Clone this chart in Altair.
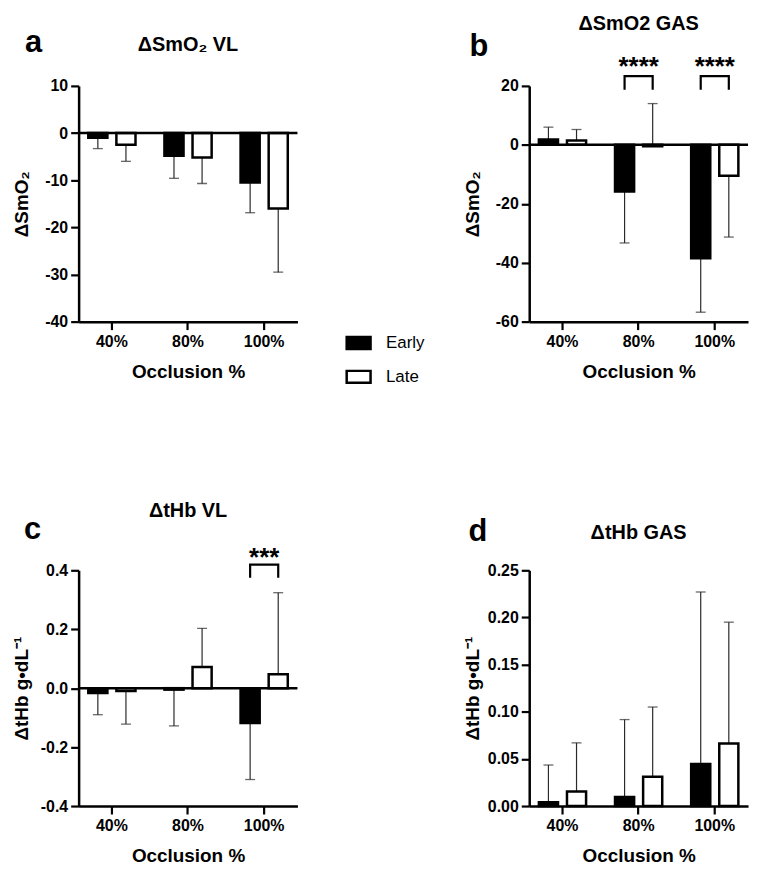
import altair as alt
import pandas as pd

FONT = "Liberation Sans"

occlusion = ["40%", "80%", "100%"]
phases = ["Early", "Late"]

# Panel a: ΔSmO2 VL
a_early = [-1.0, -4.8, -10.5]
a_early_err = [-3.3, -9.6, -16.9]
a_late = [-2.5, -5.2, -16.0]
a_late_err = [-6.0, -10.7, -29.5]

# Panel b: ΔSmO2 GAS
b_early = [1.8, -15.8, -38.5]
b_early_err = [6.0, -33.3, -56.8]
b_late = [1.5, -0.5, -10.5]
b_late_err = [5.2, 14.0, -31.3]

# Panel c: ΔtHb VL
c_early = [-0.016, -0.005, -0.118]
c_early_err = [-0.09, -0.128, -0.31]
c_late = [-0.01, 0.072, 0.047]
c_late_err = [-0.122, 0.203, 0.324]

# Panel d: ΔtHb GAS
d_early = [0.004, 0.0095, 0.0446]
d_early_err = [0.0435, 0.0917, 0.227]
d_late = [0.0155, 0.031, 0.0664]
d_late_err = [0.067, 0.105, 0.195]

# significance brackets: (occlusion, leg bottom, bracket top, star level, stars)
b_sig = [("80%", 18.7, 23.3, 28.5, "****"), ("100%", 18.7, 23.3, 28.5, "****")]
c_sig = [("100%", 0.375, 0.419, 0.462, "***")]


def make_df(early, early_err, late, late_err):
    rows = []
    for i, o in enumerate(occlusion):
        rows.append({"Occlusion": o, "Phase": "Early", "Mean": early[i], "Err": early_err[i]})
        rows.append({"Occlusion": o, "Phase": "Late", "Mean": late[i], "Err": late_err[i]})
    return pd.DataFrame(rows)


def panel(early, early_err, late, late_err, ydomain, yticks, fmt, ytitle, title,
          title_y, letter, letter_xy, zero_line, sig, legend):
    df = make_df(early, early_err, late, late_err)
    xenc = alt.X("Occlusion:N", sort=occlusion,
                 scale=alt.Scale(paddingInner=0.38, paddingOuter=0.127),
                 axis=alt.Axis(title="Occlusion %", labelAngle=0))
    xoff = alt.XOffset("Phase:N", sort=phases, scale=alt.Scale(paddingInner=0.32, paddingOuter=0))
    yscale = alt.Scale(domain=ydomain, nice=False, zero=False)
    yaxis = alt.Axis(title=ytitle, values=yticks, titleX=-47, titleY=118.5,
                     titleBaseline="bottom", titleAngle=270,
                     labelExpr="replace(format(datum.value, '%s'), '\u2212', '-')" % fmt)
    base = alt.Chart(df).encode(x=xenc, xOffset=xoff)

    err_line = base.mark_rule(color="#2a2a2a", strokeWidth=1.2).encode(
        y=alt.Y("Mean:Q", scale=yscale, axis=yaxis), y2="Err:Q")
    if legend:
        leg = alt.Legend(title=None, orient="none", legendX=268, legendY=245,
                         symbolType="M-1,-0.5H1V0.5H-1Z", symbolSize=576,
                         symbolStrokeColor="black", symbolStrokeWidth=2.5,
                         labelFontSize=17, labelFont=FONT, labelFontWeight="normal",
                         labelColor="black", rowPadding=9, padding=0, labelOffset=14)
    else:
        leg = None
    bars = base.mark_bar(stroke="black", strokeWidth=2.5).encode(
        y=alt.Y("Mean:Q", scale=yscale, axis=yaxis),
        fill=alt.Fill("Phase:N", sort=phases,
                      scale=alt.Scale(domain=phases, range=["black", "white"]),
                      legend=leg),
    )
    caps = base.mark_tick(color="#2a2a2a", thickness=1.3, size=10).encode(
        y=alt.Y("Err:Q", scale=yscale))
    layers = [err_line, bars, caps]
    if zero_line:
        zdf = pd.DataFrame({"z": [0]})
        layers.append(alt.Chart(zdf).mark_rule(color="black", strokeWidth=2.5).encode(
            y=alt.Y("z:Q", scale=yscale)))
    if sig:
        brows = []
        srows = []
        for (o, lo, hi, st, txt) in sig:
            brows += [
                {"Occlusion": o, "Phase": "Early", "y": lo, "k": 0},
                {"Occlusion": o, "Phase": "Early", "y": hi, "k": 1},
                {"Occlusion": o, "Phase": "Late", "y": hi, "k": 2},
                {"Occlusion": o, "Phase": "Late", "y": lo, "k": 3},
            ]
            srows.append({"Occlusion": o, "y": st, "t": txt})
        bdf = pd.DataFrame(brows)
        sdf = pd.DataFrame(srows)
        layers.append(alt.Chart(bdf).mark_line(color="black", strokeWidth=2.2).encode(
            x=xenc, xOffset=xoff, y=alt.Y("y:Q", scale=yscale),
            order="k:Q", detail="Occlusion:N"))
        layers.append(alt.Chart(sdf).mark_text(font=FONT, fontSize=26, fontWeight="bold",
                                               baseline="middle", dy=6).encode(
            x=xenc, y=alt.Y("y:Q", scale=yscale), text="t:N"))
    # panel letter
    ldf = pd.DataFrame({"t": [letter]})
    layers.append(alt.Chart(ldf).mark_text(font=FONT, fontSize=31, fontWeight="bold",
                                           align="left", baseline="alphabetic").encode(
        x=alt.value(letter_xy[0]), y=alt.value(letter_xy[1]), text="t:N"))
    # panel title
    tdf = pd.DataFrame({"t": [title]})
    layers.append(alt.Chart(tdf).mark_text(font=FONT, fontSize=20, fontWeight="bold",
                                           align="center", baseline="alphabetic").encode(
        x=alt.value(110), y=alt.value(title_y), text="t:N"))
    return alt.layer(*layers).properties(width=220, height=237)


pa = panel(a_early, a_early_err, a_late, a_late_err, [-40, 10], [-40, -30, -20, -10, 0, 10],
           "d", "ΔSmO₂", "ΔSmO₂ VL", -35, "a", (-54, -34), True, None, True)
pb = panel(b_early, b_early_err, b_late, b_late_err, [-60, 20], [-60, -40, -20, 0, 20],
           "d", "ΔSmO₂", "ΔSmO2 GAS", -56, "b", (-60, -30), True, b_sig, False)
pc = panel(c_early, c_early_err, c_late, c_late_err, [-0.4, 0.4], [-0.4, -0.2, 0.0, 0.2, 0.4],
           ".1f", "ΔtHb g•dL⁻¹", "ΔtHb VL", -54, "c", (-55, -31), True, c_sig, False)
pd_ = panel(d_early, d_early_err, d_late, d_late_err, [0, 0.25], [0, 0.05, 0.10, 0.15, 0.20, 0.25],
            ".2f", "ΔtHb g•dL⁻¹", "ΔtHb GAS", -31, "d", (-61, -29), False, None, False)

chart = alt.concat(pa, pb, pc, pd_, columns=2, spacing={"row": 250, "column": 233},
                   bounds="flush").resolve_scale(
    fill="independent", x="independent", y="independent"
).resolve_legend(fill="independent").properties(
    padding={"left": 5, "top": 4, "right": 5, "bottom": 5}
).configure_view(stroke=None).configure_axis(
    labelFont=FONT, titleFont=FONT, labelFontSize=16, titleFontSize=19,
    labelFontWeight="bold", titleFontWeight="bold", labelColor="black", titleColor="black",
    domainColor="black", domainWidth=2.5, tickColor="black", tickWidth=2.2, tickSize=8,
    labelPadding=3, grid=False,
).configure_axisX(titlePadding=13, labelPadding=4)

chart.save("out.html", embed_options={"renderer": "svg", "actions": False})
